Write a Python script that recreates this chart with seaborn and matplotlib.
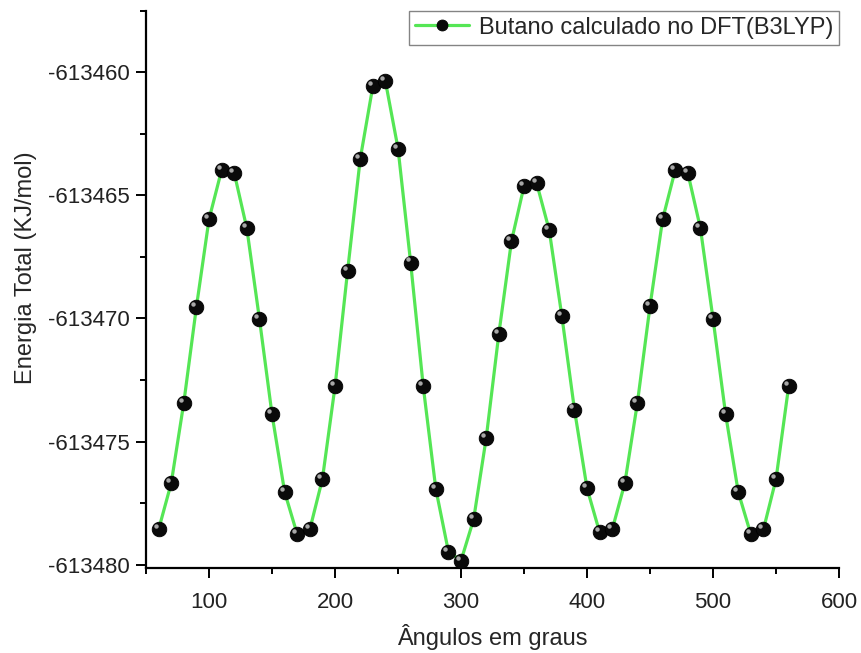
import matplotlib
matplotlib.use("Agg")
import matplotlib.pyplot as plt
import matplotlib.transforms as mtransforms
import numpy as np
import pandas as pd
import seaborn as sns
from matplotlib.ticker import MultipleLocator, FormatStrFormatter

# angle (degrees) and total energy (kJ/mol)
angles = list(range(60, 570, 10))
energy = [
    -613478.57, -613476.69, -613473.42, -613469.53, -613465.97,
    -613463.97, -613464.09, -613466.34, -613470.02, -613473.90,
    -613477.05, -613478.77, -613478.57, -613476.52, -613472.76,
    -613468.06, -613463.52, -613460.57, -613460.37, -613463.10,
    -613467.73, -613472.76, -613476.93, -613479.47, -613479.84,
    -613478.16, -613474.85, -613470.63, -613466.87, -613464.62,
    -613464.50, -613466.42, -613469.90, -613473.70, -613476.90,
    -613478.69, -613478.57, -613476.69, -613473.42, -613469.49,
    -613465.97, -613463.97, -613464.09, -613466.34, -613470.02,
    -613473.90, -613477.05, -613478.77, -613478.57, -613476.52,
    -613472.76,
]
series_label = "Butano calculado no DFT(B3LYP)"

df = pd.DataFrame({"angle": angles, "energy": energy})

sns.set_style("ticks")
plt.rcParams["font.family"] = ["Liberation Sans", "DejaVu Sans"]
plt.rcParams["axes.unicode_minus"] = False

fig = plt.figure(figsize=(8.61, 6.53), dpi=100)
ax = fig.add_axes([0.1696, 0.1297, 0.8049, 0.8539])

sns.lineplot(data=df, x="angle", y="energy", ax=ax, color="#55e655",
             linewidth=2.3, marker="o", markersize=10.5,
             markerfacecolor="#0a0a0a", markeredgecolor="#000000",
             markeredgewidth=0.6, label=series_label, zorder=3)

# small highlight on the spheres, shifted up-left in display space
shift = mtransforms.ScaledTranslation(-2.2 / 72, 2.2 / 72, fig.dpi_scale_trans)
ax.plot(df["angle"], df["energy"], linestyle="none", marker="o",
        markersize=3.2, markerfacecolor="#a8a8a8", markeredgewidth=0,
        transform=ax.transData + shift, zorder=4)

ax.set_xlim(50, 600)
ax.set_ylim(-613480.15, -613457.5)
ax.xaxis.set_major_locator(MultipleLocator(100))
ax.xaxis.set_minor_locator(MultipleLocator(50))
ax.yaxis.set_major_locator(MultipleLocator(5))
ax.yaxis.set_minor_locator(MultipleLocator(2.5))
ax.yaxis.set_major_formatter(FormatStrFormatter("%d"))

ax.set_xlabel("Ângulos em graus", fontsize=17, labelpad=8)
ax.set_ylabel("Energia Total (KJ/mol)", fontsize=17)
ax.yaxis.set_label_coords(-0.158, 0.54)

ax.tick_params(axis="both", which="major", direction="out", length=7,
               width=1.4, labelsize=16, color="black", labelcolor="#222222")
ax.tick_params(axis="both", which="minor", direction="out", length=4,
               width=1.4, color="black")
ax.tick_params(axis="x", which="major", pad=10)
ax.tick_params(axis="y", which="major", pad=5)

for side in ["top", "right"]:
    ax.spines[side].set_visible(False)
for side in ["left", "bottom"]:
    ax.spines[side].set_linewidth(1.6)
    ax.spines[side].set_color("black")

leg = ax.legend(loc="upper right", bbox_to_anchor=(1.0, 1.0), fontsize=17,
                frameon=True, fancybox=False, edgecolor="#666666",
                handlelength=2.3, handletextpad=0.4, borderpad=0.25,
                borderaxespad=0.0, markerscale=0.75)
leg.get_frame().set_linewidth(1.0)

fig.savefig("out.png", dpi=100)
